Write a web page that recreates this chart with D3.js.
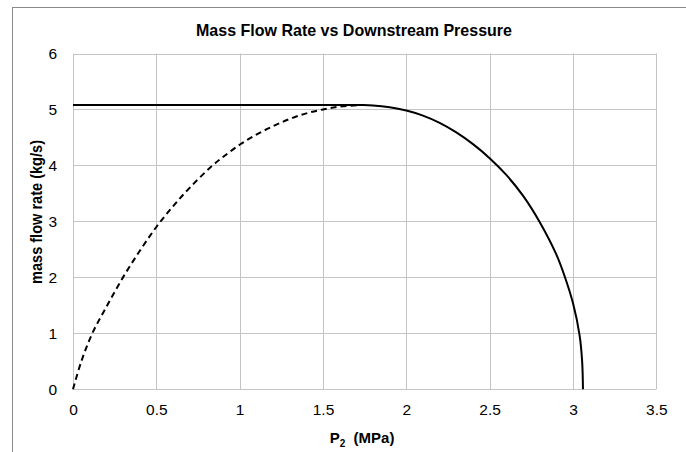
<!DOCTYPE html>
<html>
<head>
<meta charset="utf-8">
<script src="https://cdn.jsdelivr.net/npm/d3@7"></script>
<style>
  html, body { margin: 0; padding: 0; background: #fff; }
  svg { display: block; }
  text { font-family: "Liberation Sans", Arial, sans-serif; fill: #000; }
</style>
</head>
<body>
<svg id="chart" width="686" height="452"></svg>
<script>
// ---- data ----
const title = "Mass Flow Rate vs Downstream Pressure";
const yTitle = "mass flow rate (kg/s)";
const xTicks = [0, 0.5, 1, 1.5, 2, 2.5, 3, 3.5];
const yTicks = [0, 1, 2, 3, 4, 5, 6];

// solid curve: actual (choked) mass flow vs P2
const solidP    = [0, 0.5, 1.0, 1.5, 1.73, 1.8, 1.9, 2.0, 2.1, 2.2, 2.3, 2.4, 2.5, 2.6, 2.7, 2.8, 2.9, 2.95, 3.0, 3.04, 3.055, 3.06];
const solidFlow = [5.08, 5.08, 5.08, 5.08, 5.08, 5.073, 5.04, 4.98, 4.89, 4.76, 4.59, 4.38, 4.13, 3.83, 3.46, 2.99, 2.41, 2.02, 1.54, 0.96, 0.5, 0];

// dashed curve: theoretical flow below choke point
const dashP    = [0, 0.05, 0.116, 0.2, 0.3, 0.4, 0.5, 0.6, 0.7, 0.83, 0.9, 1.0, 1.1, 1.2, 1.3, 1.4, 1.5, 1.6, 1.73];
const dashFlow = [0, 0.5, 1.0, 1.47, 2.0, 2.47, 2.9, 3.27, 3.6, 3.98, 4.15, 4.37, 4.55, 4.70, 4.83, 4.93, 5.0, 5.05, 5.08];

// ---- layout ----
const svg = d3.select("#chart");
const plot = { left: 73, right: 656.3, top: 53.5, bottom: 389.3 };

const x = d3.scaleLinear().domain([0, 3.5]).range([plot.left, plot.right]);
const y = d3.scaleLinear().domain([0, 6]).range([plot.bottom, plot.top]);

// outer chart frame (only top and left edges visible)
svg.append("line").attr("x1", 12).attr("x2", 686).attr("y1", 7.5).attr("y2", 7.5)
  .attr("stroke", "#8a8a8a").attr("stroke-width", 1);
svg.append("line").attr("x1", 12.5).attr("x2", 12.5).attr("y1", 7).attr("y2", 452)
  .attr("stroke", "#8a8a8a").attr("stroke-width", 1);

// title
svg.append("text").attr("x", 354).attr("y", 35.5)
  .attr("text-anchor", "middle")
  .style("font-size", "16.5px").style("font-weight", "bold")
  .attr("textLength", 316).attr("lengthAdjust", "spacingAndGlyphs")
  .text(title);

// grid
const grid = svg.append("g").attr("stroke", "#c4c4c4").attr("stroke-width", 1);
grid.selectAll("line.v").data(xTicks).join("line").attr("class", "v")
  .attr("x1", d => Math.round(x(d)) + 0.5).attr("x2", d => Math.round(x(d)) + 0.5)
  .attr("y1", plot.top).attr("y2", plot.bottom);
grid.selectAll("line.h").data(yTicks).join("line").attr("class", "h")
  .attr("y1", d => Math.round(y(d)) + 0.5).attr("y2", d => Math.round(y(d)) + 0.5)
  .attr("x1", plot.left).attr("x2", plot.right);

// axes labels via d3 axes (no domain/ticks lines)
const xAxis = svg.append("g").attr("transform", `translate(0,${plot.bottom})`)
  .call(d3.axisBottom(x).tickValues(xTicks).tickSize(0).tickPadding(15).tickFormat(d3.format("")));
const yAxis = svg.append("g").attr("transform", `translate(${plot.left},0)`)
  .call(d3.axisLeft(y).tickValues(yTicks).tickSize(0).tickPadding(16).tickFormat(d3.format("d")));
[xAxis, yAxis].forEach(g => {
  g.select(".domain").remove();
  g.selectAll("text").style("font-size", "15.5px").style("font-family", "Liberation Sans, Arial, sans-serif").attr("fill", "#000");
});

// axis titles
const xt = svg.append("text").attr("x", 362).attr("y", 443).attr("text-anchor", "middle")
  .style("font-size", "15px").style("font-weight", "bold");
xt.append("tspan").text("P");
xt.append("tspan").attr("dy", 4).style("font-size", "10px").text("2");
xt.append("tspan").attr("dy", -4).text("\u00a0 (MPa)");

svg.append("text").attr("transform", "translate(42,212) rotate(-90)")
  .attr("text-anchor", "middle")
  .style("font-size", "16px").style("font-weight", "bold")
  .attr("textLength", 144).attr("lengthAdjust", "spacingAndGlyphs")
  .text(yTitle);

// curves
const line = d3.line().x(d => x(d[0])).y(d => y(d[1])).curve(d3.curveCatmullRom.alpha(0.5));

svg.append("path").datum(d3.zip(dashP, dashFlow))
  .attr("d", line).attr("fill", "none").attr("stroke", "#000")
  .attr("stroke-width", 2).attr("stroke-dasharray", "6,4");

svg.append("path").datum(d3.zip(solidP, solidFlow))
  .attr("d", line).attr("fill", "none").attr("stroke", "#000")
  .attr("stroke-width", 2);
</script>
</body>
</html>
